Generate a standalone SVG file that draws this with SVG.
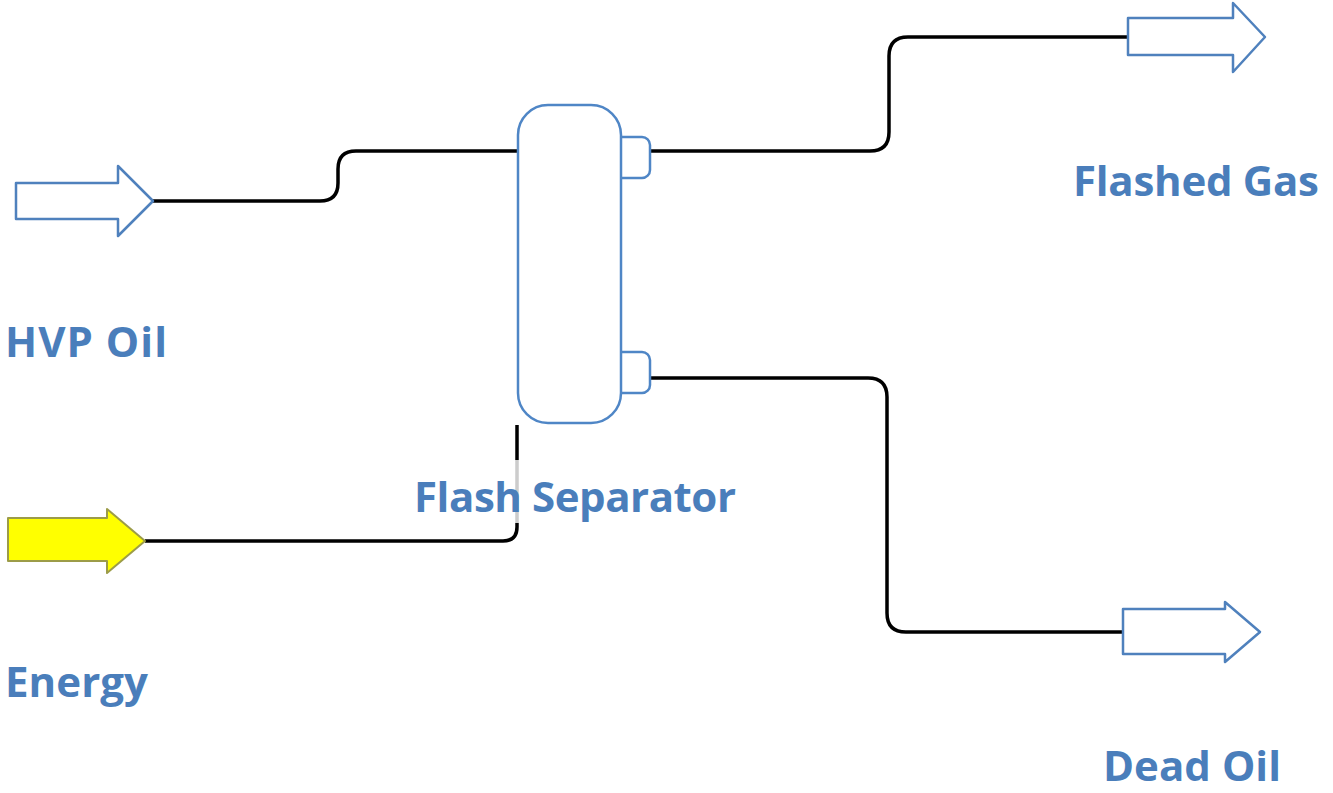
<svg xmlns="http://www.w3.org/2000/svg" width="1333" height="793" viewBox="0 0 1333 793">
  <style>
    .port { fill: #ffffff; stroke: #4f81bd; stroke-width: 2.5; stroke-linejoin: round; }
    .energy { fill: #ffff00; stroke: #9c9c48; stroke-width: 2; stroke-linejoin: round; }
    .vessel { fill: #ffffff; stroke: #4f86c6; stroke-width: 2.5; }
    .pipe { fill: none; stroke: #000000; stroke-width: 3.5; }
    .label { font-family: "Open Sans", "Liberation Sans", sans-serif; font-weight: 700; font-size: 42px; fill: #4a7ebb; }
  </style>
  <rect width="1333" height="793" fill="#ffffff"/>
  <g id="connectors">
    <path class="pipe" d="M153,201 H320 Q338,201 338,183 V169 Q338,151 356,151 H518"/>
    <path class="pipe" d="M650,151 H870 Q889,151 889,132 V56 Q889,37 908,37 H1128"/>
    <path class="pipe" d="M650,378 H868 Q887,378 887,397 V613 Q887,632 906,632 H1123"/>
    <path class="pipe" d="M145,541 H503 Q517,541 517,527 V425"/>
  </g>
  <g id="hvp-oil">
    <polygon class="port" points="16,183 118,183 118,166 153,201 118,236 118,219 16,219"/>
    <text class="label" x="5" y="357" textLength="162" lengthAdjust="spacing">HVP Oil</text>
  </g>
  <g id="energy">
    <polygon class="energy" points="8,518 107,518 107,509 145,541 107,573 107,561 8,561"/>
    <text class="label" x="5" y="697" textLength="143" lengthAdjust="spacing">Energy</text>
  </g>
  <g id="flash-separator">
    <rect class="vessel" x="610" y="137" width="40" height="41" rx="8"/>
    <rect class="vessel" x="610" y="352" width="40" height="41" rx="8"/>
    <rect class="vessel" x="518" y="105" width="103" height="318" rx="30"/>
    <rect x="412" y="460" width="330" height="63" fill="#ffffff" opacity="0.8"/>
    <text class="label" x="414" y="512" textLength="322" lengthAdjust="spacing">Flash Separator</text>
  </g>
  <g id="flashed-gas">
    <polygon class="port" points="1128,18 1233,18 1233,3 1265,37 1233,72 1233,55 1128,55"/>
    <text class="label" x="1073" y="196" textLength="246" lengthAdjust="spacing">Flashed Gas</text>
  </g>
  <g id="dead-oil">
    <polygon class="port" points="1123,609 1225,609 1225,602 1260,632 1225,662 1225,654 1123,654"/>
    <text class="label" x="1103" y="781" textLength="178" lengthAdjust="spacing">Dead Oil</text>
  </g>
</svg>
